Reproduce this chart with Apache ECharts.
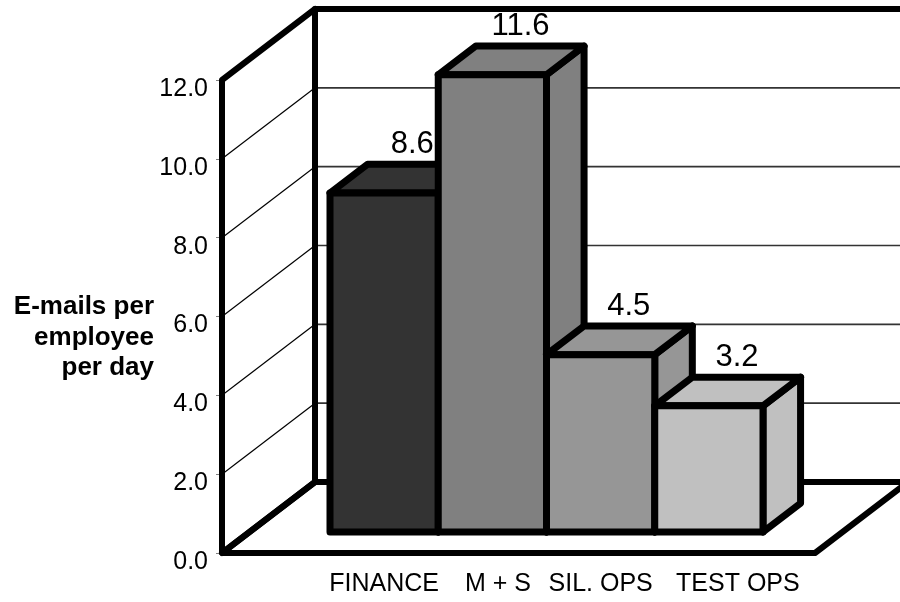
<!DOCTYPE html>
<html>
<head>
<meta charset="utf-8">
<script src="https://cdn.jsdelivr.net/npm/echarts@6/dist/echarts.min.js"></script>
<style>
  html, body { margin: 0; padding: 0; background: #ffffff; }
  #chart { width: 900px; height: 602px; }
</style>
</head>
<body>
<div id="chart"></div>
<script>
// ---- data ----
const categories = ['FINANCE', 'M + S', 'SIL. OPS', 'TEST OPS'];
const emailsPerDay = [8.6, 11.6, 4.5, 3.2];
const yTicks = [0, 2, 4, 6, 8, 10, 12];
const barColors = ['#333333', '#808080', '#969696', '#c0c0c0'];
const axisTitle = 'E-mails per\nemployee\nper day';

// ---- look & layout ----
const FONT = "'Liberation Sans', Arial, Helvetica, sans-serif";
const WALL_DEPTH = [93, -71];          // floor front edge -> back wall, in pixels
const BAR_NEAR = 0.296, BAR_FAR = 0.70; // slab of the depth occupied by the bars
const WALL_EDGE = 6, BAR_EDGE = 7, GRID_LINE = 1.6;

const chart = echarts.init(document.getElementById('chart'), null, { renderer: 'canvas' });

// Walls and floor of the 3-D box, drawn in the front (floor edge) plane.
function renderWalls(params, api) {
  if (params.dataIndex !== 0) return null;
  const dx = WALL_DEPTH[0], dy = WALL_DEPTH[1];
  const fl = api.coord([0, 0]);
  const fr = api.coord([1, 0]);
  const x0 = fl[0], x1 = fr[0], y0 = fl[1];
  const yTop = api.coord([0, yTicks[yTicks.length - 1]])[1];
  const thick = { stroke: '#000', lineWidth: WALL_EDGE, lineJoin: 'round', lineCap: 'round', fill: null };
  const thin = { stroke: '#333', lineWidth: GRID_LINE };
  const kids = [];

  // fills
  kids.push({ type: 'polygon', shape: { points: [[x0 + dx, yTop + dy], [x1 + dx + 40, yTop + dy], [x1 + dx + 40, y0 + dy], [x0 + dx, y0 + dy]] }, style: { fill: '#fff' } });
  kids.push({ type: 'polygon', shape: { points: [[x0, y0], [x0, yTop], [x0 + dx, yTop + dy], [x0 + dx, y0 + dy]] }, style: { fill: '#fff' } });
  kids.push({ type: 'polygon', shape: { points: [[x0, y0], [x1, y0], [x1 + dx, y0 + dy], [x0 + dx, y0 + dy]] }, style: { fill: '#fff' } });

  // gridlines on the back wall and the side wall
  yTicks.slice(1, -1).forEach(function (t) {
    const y = api.coord([0, t])[1];
    kids.push({ type: 'line', shape: { x1: x0 + dx, y1: y + dy, x2: x1 + dx + 40, y2: y + dy }, style: thin });
    kids.push({ type: 'line', shape: { x1: x0, y1: y, x2: x0 + dx, y2: y + dy }, style: { stroke: '#000', lineWidth: 1.2 } });
  });

  // heavy outlines
  kids.push({ type: 'polyline', shape: { points: [[x0 + dx, y0 + dy], [x0 + dx, yTop + dy], [x1 + dx + 40, yTop + dy]] }, style: thick });
  kids.push({ type: 'line', shape: { x1: x0 + dx, y1: y0 + dy, x2: x1 + dx + 40, y2: y0 + dy }, style: thick });
  kids.push({ type: 'polygon', shape: { points: [[x0, y0], [x0, yTop], [x0 + dx, yTop + dy], [x0 + dx, y0 + dy]] }, style: thick });
  kids.push({ type: 'polygon', shape: { points: [[x0, y0], [x1, y0], [x1 + dx, y0 + dy], [x0 + dx, y0 + dy]] }, style: thick });

  return { type: 'group', children: kids };
}

// One 3-D column: front face, top face and right side face plus its value label.
function renderBar(params, api) {
  const i = api.value(0);
  const v = api.value(1);
  const base = api.coord([i, 0]);
  const topPt = api.coord([i, v]);
  const w = api.size([1, 0])[0];
  const xl = base[0] - w / 2, xr = base[0] + w / 2;
  const yb = base[1], yt = topPt[1];
  const dx = WALL_DEPTH[0] * (BAR_FAR - BAR_NEAR);
  const dy = WALL_DEPTH[1] * (BAR_FAR - BAR_NEAR);
  const edge = { stroke: '#000', lineWidth: BAR_EDGE, lineJoin: 'round', fill: barColors[i] };
  return {
    type: 'group',
    children: [
      { type: 'polygon', shape: { points: [[xr, yt], [xr + dx, yt + dy], [xr + dx, yb + dy], [xr, yb]] }, style: edge },
      { type: 'polygon', shape: { points: [[xl, yt], [xr, yt], [xr + dx, yt + dy], [xl + dx, yt + dy]] }, style: edge },
      { type: 'rect', shape: { x: xl, y: yt, width: w, height: yb - yt }, style: edge },
      {
        type: 'text', x: base[0] + dx * 0.75, y: yt + dy - 4,
        style: { text: v.toFixed(1), fill: '#000', font: '31px ' + FONT, align: 'center', verticalAlign: 'bottom' }
      }
    ]
  };
}

const labelRich = {
  c0: {},
  c1: { padding: [0, 0, 0, 11] },
  c2: {},
  c3: { padding: [0, 0, 0, 58] }
};

const option = {
  animation: false,
  backgroundColor: '#ffffff',
  textStyle: { fontFamily: FONT },
  graphic: [
    {
      type: 'text', x: 154, y: 292, z: 10,
      style: {
        text: axisTitle, fill: '#000', align: 'right', verticalAlign: 'top',
        font: 'bold 26px ' + FONT, lineHeight: 30.5
      }
    }
  ],
  grid: [
    { left: 222, right: 85, top: 80, bottom: 49 },     // floor front edge plane
    { left: 330, right: 137, top: 59, bottom: 70 }     // front face plane of the columns
  ],
  xAxis: [
    { type: 'value', gridIndex: 0, min: 0, max: 1, show: false },
    {
      type: 'category', gridIndex: 1, data: categories,
      axisLine: { show: false }, axisTick: { show: false },
      axisLabel: {
        margin: 40, fontSize: 25, color: '#000', fontFamily: FONT, interval: 0,
        formatter: function (val, idx) { return '{c' + idx + '|' + val + '}'; },
        rich: labelRich
      }
    }
  ],
  yAxis: [
    {
      type: 'value', gridIndex: 0, min: 0, max: 12, interval: 2,
      axisLine: { show: false },
      axisTick: { show: true, length: 6, lineStyle: { color: '#808080', width: 1 } },
      splitLine: { show: false },
      axisLabel: {
        margin: 14, fontSize: 25, color: '#000', fontFamily: FONT,
        verticalAlign: 'top', lineHeight: 18,
        formatter: function (v) { return v.toFixed(1); }
      }
    },
    { type: 'value', gridIndex: 1, min: 0, max: 12, interval: 2, show: false }
  ],
  series: [
    {
      type: 'custom', xAxisIndex: 0, yAxisIndex: 0, clip: false, z: 1,
      renderItem: renderWalls,
      data: [[0, 0]]
    },
    {
      type: 'custom', xAxisIndex: 1, yAxisIndex: 1, clip: false, z: 2,
      renderItem: renderBar,
      encode: { x: 0, y: 1 },
      data: emailsPerDay.map(function (v, i) { return [i, v]; })
    }
  ]
};

chart.setOption(option);
</script>
</body>
</html>
